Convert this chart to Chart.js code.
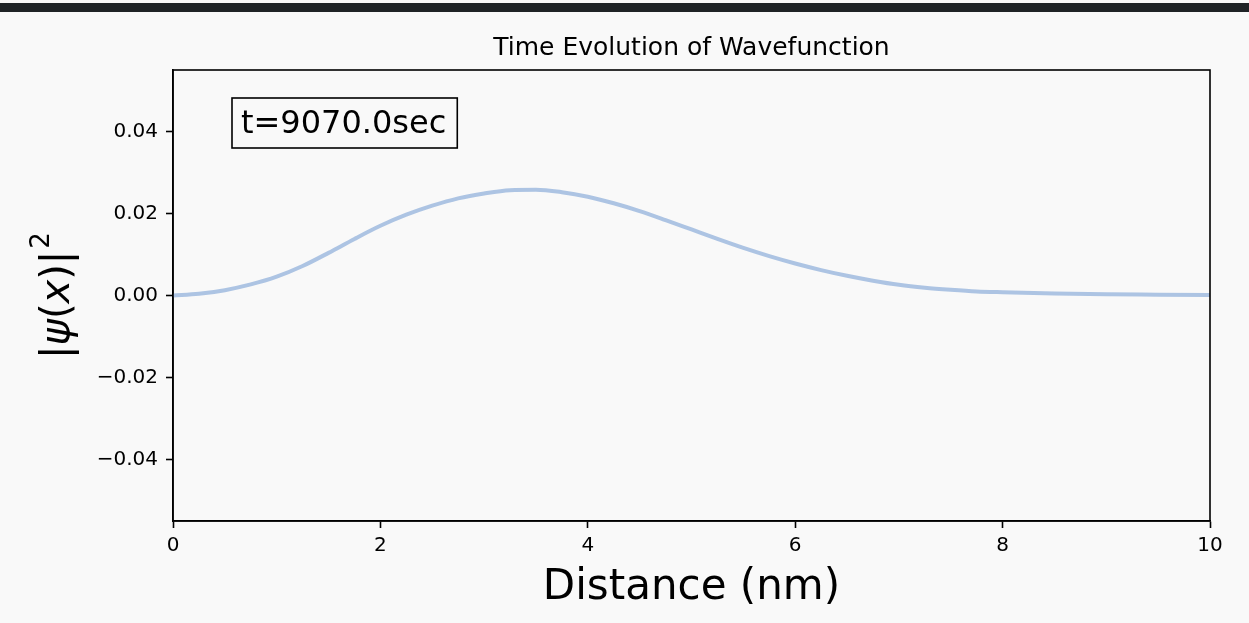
<!DOCTYPE html>
<html>
<head>
<meta charset="utf-8">
<script src="https://cdn.jsdelivr.net/npm/chart.js@4/dist/chart.umd.min.js"></script>
<style>
  html, body { margin: 0; padding: 0; background: #fff; }
  #wrap { position: relative; width: 1249px; height: 623px; background: #f9f9f9; overflow: hidden; }
  #bar { position: absolute; left: 0; top: 3px; width: 1249px; height: 9px; background: #1f2326; }
  canvas { position: absolute; left: 0; top: 0; }
</style>
</head>
<body>
<div id="wrap">
  <canvas id="c" width="1249" height="623"></canvas>
  <div id="bar"></div>
</div>
<script>
// distance (nm) and |psi(x)|^2
const distance = [0, 0.25, 0.5, 0.75, 1, 1.25, 1.5, 1.75, 2, 2.25, 2.5, 2.75, 3, 3.25, 3.5, 3.75, 4,
  4.25, 4.5, 4.75, 5, 5.25, 5.5, 5.75, 6, 6.25, 6.5, 6.75, 7, 7.25, 7.5, 7.75, 8, 8.5, 9, 9.5, 10]
const density = [0, 0.0004, 0.0013, 0.0027, 0.0046, 0.0072, 0.0104, 0.0138, 0.0170, 0.0197, 0.0219, 0.0237, 0.0249, 0.0257, 0.0258, 0.0252, 0.0241,
  0.0225, 0.0206, 0.0184, 0.0161, 0.0138, 0.0116, 0.0096, 0.0078, 0.0062, 0.0048, 0.0036, 0.0026, 0.0019, 0.0014, 0.0010, 0.0008, 0.0005, 0.0003, 0.0002, 0.0001]
const xTicks = [0, 2, 4, 6, 8, 10]
const yTicks = [-0.04, -0.02, 0, 0.02, 0.04]
const titleText = 'Time Evolution of Wavefunction'
const xLabel = 'Distance (nm)'
const timeLabel = 't=9070.0sec'

const FONT = "'DejaVu Sans', sans-serif"

// frame, title, axis labels and the time box
const decor = {
  id: 'decor',
  afterDraw(chart) {
    const ctx = chart.ctx
    const a = chart.chartArea
    ctx.save()
    ctx.strokeStyle = '#000'
    ctx.lineWidth = 1.6
    ctx.strokeRect(a.left, a.top, a.right - a.left, a.bottom - a.top)

    ctx.fillStyle = '#000'
    ctx.textAlign = 'center'
    ctx.textBaseline = 'alphabetic'
    ctx.font = `25px ${FONT}`
    ctx.fillText(titleText, (a.left + a.right) / 2, 55)
    ctx.font = `42px ${FONT}`
    ctx.fillText(xLabel, (a.left + a.right) / 2, 599)

    // y label |psi(x)|^2, rotated
    ctx.save()
    ctx.translate(69, (a.top + a.bottom) / 2)
    ctx.rotate(-Math.PI / 2)
    const parts = [
      ['|', 'normal', 40, 0], ['ψ', 'italic', 40, 0], ['(', 'normal', 40, 0],
      ['x', 'italic', 40, 0], [')|', 'normal', 40, 0], ['2', 'normal', 26, 20]
    ]
    let w = 0
    parts.forEach(p => { ctx.font = `${p[1]} ${p[2]}px ${FONT}`; w += ctx.measureText(p[0]).width + (p[3] ? 2 : 0) })
    let x = -w / 2
    ctx.textAlign = 'left'
    parts.forEach(p => {
      ctx.font = `${p[1]} ${p[2]}px ${FONT}`
      if (p[3]) x += 2
      ctx.fillText(p[0], x, -p[3])
      x += ctx.measureText(p[0]).width
    })
    ctx.restore()

    // time annotation
    ctx.font = `32px ${FONT}`
    ctx.textAlign = 'left'
    const tw = ctx.measureText(timeLabel).width
    ctx.fillStyle = '#f9f9f9'
    ctx.fillRect(232, 98, tw + 20, 50)
    ctx.strokeStyle = '#000'
    ctx.lineWidth = 1.6
    ctx.strokeRect(232, 98, tw + 20, 50)
    ctx.fillStyle = '#000'
    ctx.fillText(timeLabel, 241, 133)
    ctx.restore()
  }
}

new Chart(document.getElementById('c'), {
  type: 'line',
  data: {
    datasets: [{
      data: distance.map((d, i) => ({x: d, y: density[i]})),
      borderColor: '#adc4e3',
      borderWidth: 4,
      pointRadius: 0,
      fill: false,
      cubicInterpolationMode: 'monotone'
    }]
  },
  options: {
    responsive: false,
    animation: false,
    layout: { padding: { top: 70, right: 39, left: 0, bottom: 0 } },
    plugins: { legend: { display: false }, tooltip: { enabled: false }, title: { display: false } },
    scales: {
      x: {
        type: 'linear', min: 0, max: 10,
        afterBuildTicks: s => { s.ticks = xTicks.map(v => ({value: v})) },
        afterFit: s => { s.height = 623 - 521 },
        ticks: { color: '#000', font: { family: FONT, size: 20 }, padding: 6, maxRotation: 0, callback: v => String(v) },
        grid: { drawOnChartArea: false, tickLength: 7, tickColor: '#000', tickWidth: 1.6 },
        border: { color: '#000', width: 1.6 }
      },
      y: {
        type: 'linear', min: -0.055, max: 0.055,
        afterBuildTicks: s => { s.ticks = yTicks.map(v => ({value: v})) },
        afterFit: s => { s.width = 173 },
        ticks: { color: '#000', font: { family: FONT, size: 20 }, padding: 8,
          callback: v => (v < 0 ? '\u2212' : '') + Math.abs(v).toFixed(2) },
        grid: { drawOnChartArea: false, tickLength: 7, tickColor: '#000', tickWidth: 1.6 },
        border: { color: '#000', width: 1.6 }
      }
    }
  },
  plugins: [decor]
})
</script>
</body>
</html>
